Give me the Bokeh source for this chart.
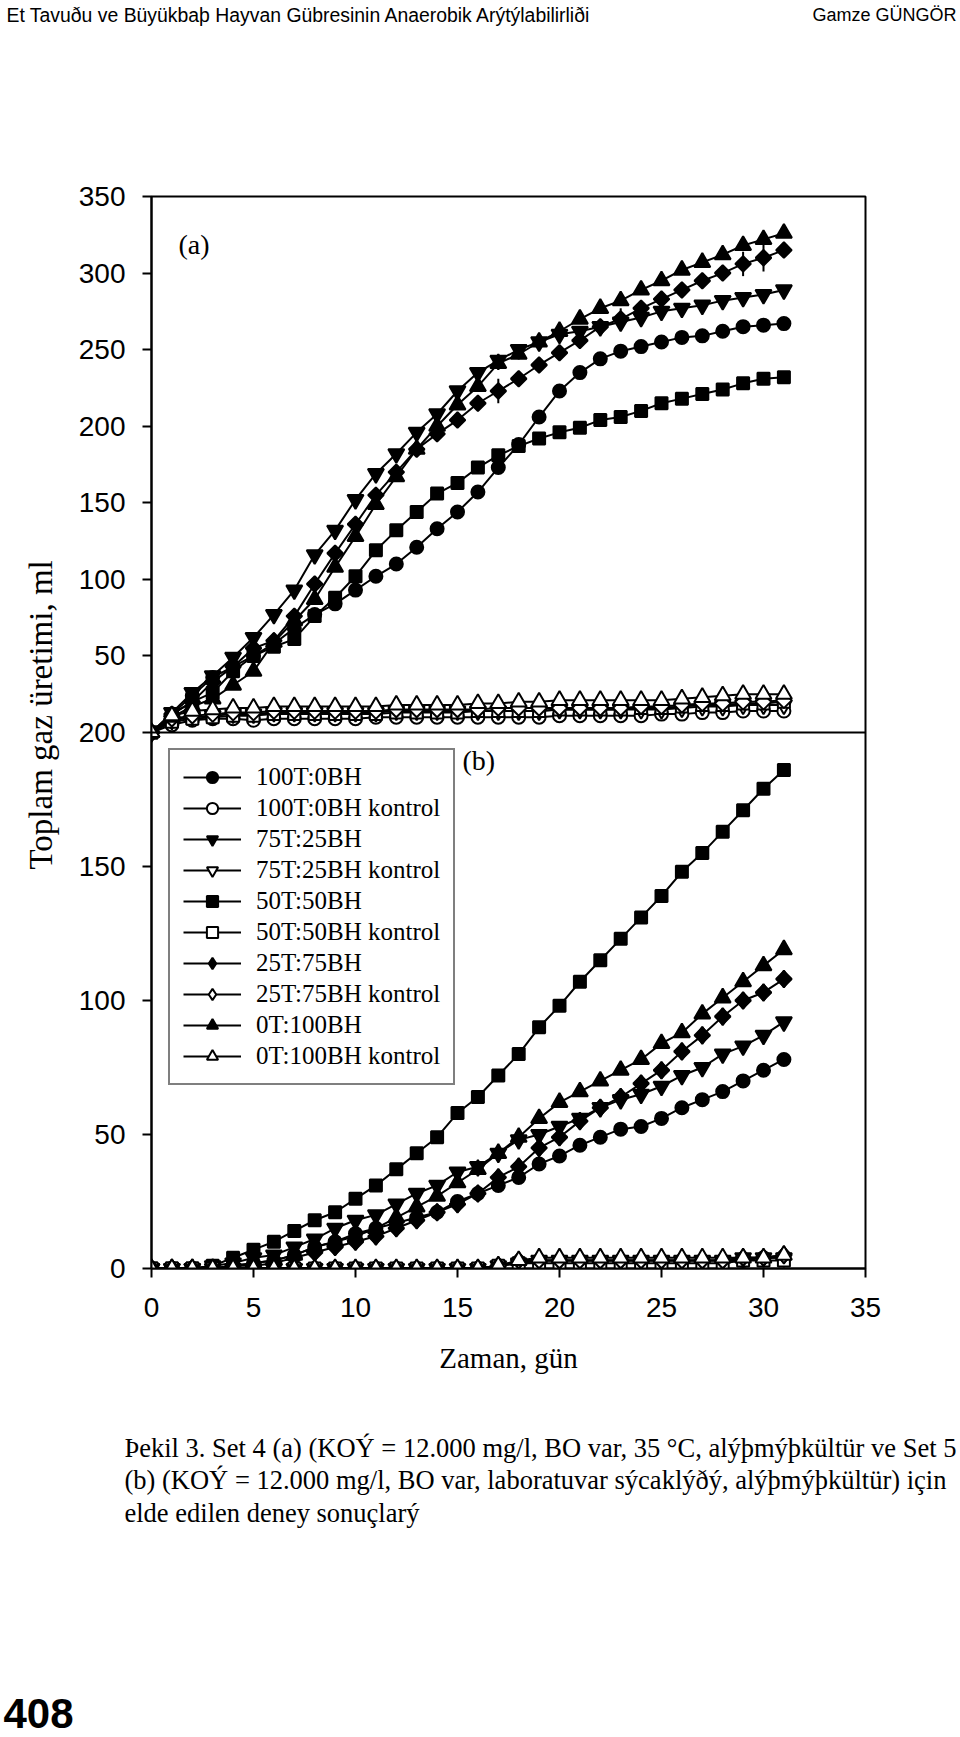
import numpy as np
from bokeh.plotting import figure
from bokeh.layouts import column
from bokeh.models import Range1d, FixedTicker, Span, Label, Legend, LegendItem, Title
from bokeh.embed import file_html
from bokeh.resources import INLINE

# ---------------- data ----------------
days = list(range(32))

series_names = ["100T:0BH", "100T:0BH kontrol", "75T:25BH", "75T:25BH kontrol",
                "50T:50BH", "50T:50BH kontrol", "25T:75BH", "25T:75BH kontrol",
                "0T:100BH", "0T:100BH kontrol"]

# Panel (a): Set 4
a_100T_0BH = [0, 12, 24, 36, 43, 50, 58, 68, 77, 84, 93, 102, 110, 121, 133, 144,
              157, 173, 188, 206, 223, 235, 244, 249, 252, 255, 258, 259, 262, 265, 266, 267]
a_100T_0BH_k = [0, 5, 8, 9, 9, 8, 9, 9, 9, 9, 9, 10, 10, 10, 10, 10,
                10, 10, 10, 10, 11, 11, 11, 11, 11, 12, 12, 13, 13, 14, 14, 14]
a_75T_25BH = [0, 13, 26, 37, 49, 62, 77, 93, 116, 132, 152, 169, 182, 196, 208, 223,
              235, 243, 250, 255, 260, 262, 265, 268, 271, 275, 277, 279, 282, 284, 286, 289]
a_75T_25BH_k = [0, 8, 10, 11, 12, 12, 13, 13, 13, 13, 13, 13, 14, 14, 14, 14,
                14, 14, 14, 14, 15, 15, 15, 15, 15, 15, 16, 17, 17, 18, 18, 18]
a_50T_50BH = [0, 12, 20, 26, 40, 50, 56, 61, 76, 88, 102, 119, 132, 144, 156, 163,
              173, 181, 187, 192, 196, 199, 204, 206, 210, 215, 218, 221, 224, 228, 231, 232]
a_50T_50BH_k = [0, 7, 9, 10, 11, 11, 12, 12, 12, 12, 12, 12, 13, 13, 13, 13,
                14, 14, 14, 14, 15, 15, 15, 15, 16, 16, 17, 18, 18, 19, 19, 20]
a_25T_75BH = [0, 12, 20, 33, 43, 55, 60, 76, 97, 117, 136, 155, 170, 185, 195, 204,
              215, 223, 231, 240, 248, 256, 265, 270, 277, 283, 289, 295, 300, 306, 310, 315]
a_25T_75BH_k = [0, 9, 11, 12, 13, 13, 14, 14, 14, 14, 14, 14, 15, 15, 15, 15,
                15, 16, 16, 16, 16, 16, 16, 16, 17, 17, 18, 19, 19, 20, 20, 21]
a_0T_100BH = [0, 10, 17, 22, 31, 40, 59, 73, 87, 108, 128, 149, 167, 185, 200, 214,
              226, 241, 247, 255, 262, 270, 277, 282, 289, 295, 302, 307, 312, 318, 322, 326]
a_0T_100BH_k = [0, 11, 14, 15, 16, 16, 17, 17, 17, 17, 17, 17, 18, 18, 18, 18,
                19, 19, 20, 20, 21, 21, 21, 21, 21, 21, 22, 23, 24, 25, 25, 25]

# error bars visible on 25T:75BH (a)
a_err_days = [17, 23, 29, 30]
a_err_vals = [223, 270, 306, 310]
a_err_half = [8, 7, 8, 9]

# Panel (b): Set 5
b_100T_0BH = [0, 0, 0, 0, 1, 2, 3, 5, 8, 10, 13, 15, 17, 19, 21, 25,
              28, 31, 34, 39, 42, 46, 49, 52, 53, 56, 60, 63, 66, 70, 74, 78]
b_100T_0BH_k = [0, 0, 0, 0, 0, 0, 0, 0, 0, 0, 0, 0, 0, 0, 0, 0,
                0, 1, 2, 3, 3, 3, 3, 3, 3, 3, 3, 3, 3, 3, 4, 4]
b_75T_25BH = [0, 0, 0, 1, 2, 4, 5, 8, 11, 15, 18, 20, 24, 28, 31, 36,
              38, 43, 48, 50, 53, 56, 60, 63, 65, 68, 72, 75, 80, 83, 87, 92]
b_75T_25BH_k = [0, 0, 0, 0, 0, 0, 0, 0, 0, 0, 0, 0, 0, 0, 0, 0,
                0, 1, 2, 3, 3, 3, 3, 3, 3, 3, 3, 3, 3, 4, 4, 4]
b_50T_50BH = [0, 0, 0, 1, 4, 7, 10, 14, 18, 21, 26, 31, 37, 43, 49, 58,
              64, 72, 80, 90, 98, 107, 115, 123, 131, 139, 148, 155, 163, 171, 179, 186]
b_50T_50BH_k = [0, 0, 0, 0, 0, 0, 0, 0, 0, 0, 0, 0, 0, 0, 0, 0,
                0, 1, 2, 2, 2, 2, 2, 2, 2, 2, 2, 2, 2, 3, 3, 3]
b_25T_75BH = [0, 0, 0, 0, 1, 1, 2, 4, 6, 8, 10, 12, 15, 18, 21, 24,
              28, 34, 38, 45, 49, 55, 60, 64, 69, 74, 81, 87, 94, 100, 103, 108]
b_25T_75BH_k = [0, 0, 0, 0, 0, 0, 0, 0, 0, 0, 0, 0, 0, 0, 0, 0,
                0, 1, 3, 3, 3, 3, 3, 3, 3, 3, 3, 3, 3, 4, 4, 5]
b_0T_100BH = [0, 0, 0, 0, 1, 2, 3, 5, 8, 10, 12, 15, 19, 23, 27, 32,
              37, 43, 49, 56, 62, 66, 70, 74, 78, 84, 88, 95, 101, 107, 113, 119]
b_0T_100BH_k = [0, 0, 0, 0, 0, 0, 0, 0, 0, 0, 0, 0, 0, 0, 0, 0,
                0, 1, 3, 4, 4, 4, 4, 4, 4, 4, 4, 4, 4, 4, 4, 5]

x_ticks = [0, 5, 10, 15, 20, 25, 30, 35]
ya_ticks = [0, 50, 100, 150, 200, 250, 300, 350]
yb_ticks = [0, 50, 100, 150, 200]

panel_a = [a_100T_0BH, a_100T_0BH_k, a_75T_25BH, a_75T_25BH_k, a_50T_50BH,
           a_50T_50BH_k, a_25T_75BH, a_25T_75BH_k, a_0T_100BH, a_0T_100BH_k]
panel_b = [b_100T_0BH, b_100T_0BH_k, b_75T_25BH, b_75T_25BH_k, b_50T_50BH,
           b_50T_50BH_k, b_25T_75BH, b_25T_75BH_k, b_0T_100BH, b_0T_100BH_k]

header_left = "Et Tavuðu ve Büyükbaþ Hayvan Gübresinin Anaerobik Arýtýlabilirliði"
header_right = "Gamze GÜNGÖR"
y_title = "Toplam gaz üretimi, ml"
x_title = "Zaman, gün"
caption_lines = [
    "Þekil 3. Set 4 (a) (KOÝ = 12.000 mg/l, BO var, 35 °C, alýþmýþkültür ve Set 5",
    "(b) (KOÝ = 12.000 mg/l, BO var, laboratuvar sýcaklýðý, alýþmýþkültür) için",
    "elde edilen deney sonuçlarý",
]
page_number = "408"

# ---------------- styles ----------------
marker_styles = [
    dict(marker="circle", size=13, angle=0.0, fill="black"),
    dict(marker="circle", size=13, angle=0.0, fill="white"),
    dict(marker="inverted_triangle", size=16, angle=0.0, fill="black"),
    dict(marker="inverted_triangle", size=16, angle=0.0, fill="white"),
    dict(marker="square", size=12, angle=0.0, fill="black"),
    dict(marker="square", size=12, angle=0.0, fill="white"),
    dict(marker="square", size=11, angle=np.pi / 4, fill="black"),
    dict(marker="square", size=11, angle=np.pi / 4, fill="white"),
    dict(marker="triangle", size=16, angle=0.0, fill="black"),
    dict(marker="triangle", size=16, angle=0.0, fill="white"),
]

SANS = "Liberation Sans"
SERIF = "Liberation Serif"

W = 960
H_HEAD, H_MAIN, H_CAP = 40, 1360, 337
# frame edges (page px): left 151, right 865, top 196, bottom 1268
FL, FR = 151, 865
FT, FB = 196 - H_HEAD, 1268 - H_HEAD


def blank_fig(h):
    f = figure(width=W, height=h, x_range=Range1d(0, W), y_range=Range1d(0, h),
               x_axis_type=None, y_axis_type=None, output_backend="svg",
               toolbar_location=None, min_border=0)
    f.frame_align = False
    f.title.visible = False
    f.outline_line_color = None
    f.grid.visible = False
    f.background_fill_color = "white"
    f.border_fill_color = "white"
    return f


def put(f, text, x, y, font=SANS, size="18px", align="left", baseline="top",
        style="normal", angle=0.0):
    f.add_layout(Label(x=x, y=y, x_units="canvas", y_units="canvas", text=text,
                       text_font=font, text_font_size=size, text_align=align,
                       text_baseline=baseline, text_font_style=style,
                       text_color="black", angle=angle))


# ---------------- header ----------------
head = blank_fig(H_HEAD)
put(head, header_left, 6, 3, size="19.4px")
put(head, header_right, 956, 4, size="18px", align="right")

# ---------------- main chart ----------------
MAIN_MAX = 1400
p = figure(width=W, height=H_MAIN, x_range=Range1d(0, 35), y_range=Range1d(0, MAIN_MAX),
           output_backend="svg", toolbar_location=None,
           min_border_left=FL, min_border_right=W - FR,
           min_border_top=FT, min_border_bottom=H_MAIN - FB)
p.frame_align = False
p.extra_y_ranges = {"a": Range1d(-350, 350), "b": Range1d(0, 400)}
p.background_fill_color = "white"
p.border_fill_color = "white"
p.outline_line_color = "black"
p.outline_line_width = 2
p.grid.visible = False

half = MAIN_MAX / 2
def main_from_a(v):
    return int(round(half + v * half / 350))
def main_from_b(v):
    return int(round(v * half / 200))

overrides = {}
ticks = []
for v in ya_ticks:
    t = main_from_a(v)
    ticks.append(t)
    overrides[t] = str(v)
for v in yb_ticks:
    t = main_from_b(v)
    if t not in ticks:
        ticks.append(t)
    overrides[t] = str(v)

for ax in (p.xaxis[0], p.yaxis[0]):
    ax.axis_line_width = 2
    ax.axis_line_color = "black"
    ax.major_tick_line_width = 2
    ax.major_tick_line_color = "black"
    ax.major_tick_in = 0
    ax.major_tick_out = 9
    ax.minor_tick_line_color = None
    ax.major_label_text_font = SANS
    ax.major_label_text_font_size = "28px"
    ax.major_label_text_color = "black"
    ax.axis_label_text_font = SERIF
    ax.axis_label_text_font_style = "normal"
    ax.axis_label_text_color = "black"

p.yaxis[0].ticker = FixedTicker(ticks=sorted(ticks))
p.yaxis[0].major_label_overrides = overrides
p.yaxis[0].major_label_standoff = 17

# y title as a left-side title, shifted up to sit where the original has it
p.add_layout(Title(text=y_title, align="left", offset=399, standoff=34,
                   vertical_align="bottom", text_font=SERIF, text_font_size="33px",
                   text_font_style="normal", text_color="black"), "left")

p.xaxis[0].ticker = FixedTicker(ticks=x_ticks)
p.xaxis[0].major_label_standoff = 20
p.xaxis[0].axis_label = x_title
p.xaxis[0].axis_label_text_font_size = "29px"
p.xaxis[0].axis_label_standoff = 22

# divider between the panels
p.add_layout(Span(location=half, dimension="width", line_color="black", line_width=2))

legend_items = []
for name, va, vb, st in zip(series_names, panel_a, panel_b, marker_styles):
    p.line(days, va, y_range_name="a", line_color="black", line_width=2)
    p.scatter(days, va, y_range_name="a", marker=st["marker"], size=st["size"],
              angle=st["angle"], fill_color=st["fill"], line_color="black", line_width=2)
    lb = p.line(days, vb, y_range_name="b", line_color="black", line_width=2)
    rend = [lb]
    if st["angle"] != 0.0:
        # diamond drawn underneath the rotated square, shown in the legend
        d = p.scatter(days, vb, y_range_name="b", marker="diamond", size=17,
                      fill_color=st["fill"], line_color="black", line_width=2)
        rend.append(d)
    sb = p.scatter(days, vb, y_range_name="b", marker=st["marker"], size=st["size"],
                   angle=st["angle"], fill_color=st["fill"], line_color="black", line_width=2)
    if st["angle"] == 0.0:
        rend.append(sb)
    legend_items.append(LegendItem(label=name, renderers=rend))

p.segment(x0=a_err_days, y0=[v - e for v, e in zip(a_err_vals, a_err_half)],
          x1=a_err_days, y1=[v + e for v, e in zip(a_err_vals, a_err_half)],
          y_range_name="a", line_color="black", line_width=2)

legend = Legend(items=legend_items, location=(17, 183), orientation="vertical",
                border_line_color="black", border_line_width=2,
                background_fill_color="white", background_fill_alpha=1.0,
                label_text_font=SERIF, label_text_font_size="25px",
                label_text_color="black",
                glyph_width=58, glyph_height=28, label_height=28,
                label_standoff=15, spacing=3, padding=13, margin=0)
p.add_layout(legend, "center")

put(p, "(a)", 178, 188, font=SERIF, size="28px")
put(p, "(b)", 462, 704, font=SERIF, size="28px")

# ---------------- caption ----------------
cap = blank_fig(H_CAP)
for i, line in enumerate(caption_lines):
    put(cap, line, 124, 47 + 32.5 * i, font=SERIF, size="26.5px", baseline="middle")
put(cap, page_number, 3, 327, size="42px", baseline="bottom", style="bold")

layout = column(head, p, cap, spacing=0)
open("out.html", "w").write(file_html(layout, INLINE))
